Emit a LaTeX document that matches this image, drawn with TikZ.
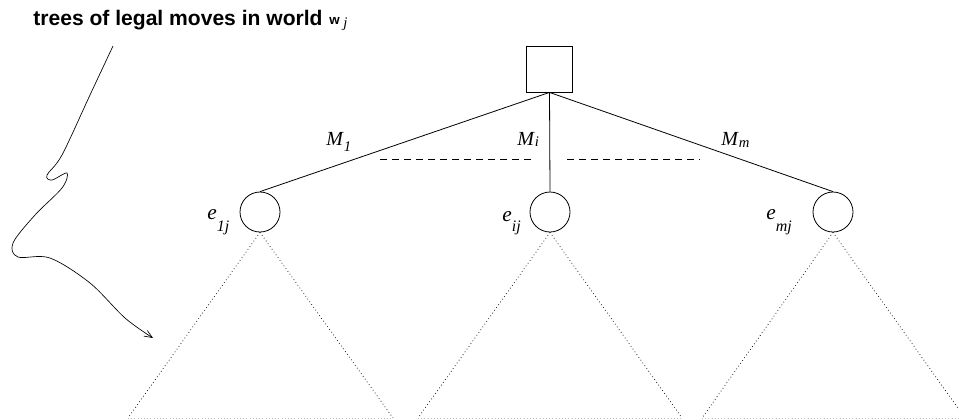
\documentclass[tikz,border=0pt]{standalone}
\usepackage{fontspec}
\setmainfont{Liberation Serif}
\newfontfamily\titlefont{Liberation Sans}
\usetikzlibrary{arrows.meta}
\newcommand\mlab[3]{\textit{#1}\raisebox{-#3}{\fontsize{11}{11}\selectfont\textit{#2}}}
\begin{document}
\begin{tikzpicture}[x=0.75pt,y=-0.75pt,line width=0.6pt,
  boxnode/.style={draw,minimum size=34.5pt,inner sep=0pt},
  leaf/.style={draw,circle,minimum size=30pt,inner sep=0pt},
  lab/.style={inner sep=0pt,font=\fontsize{15}{15}\selectfont},
  elab/.style={inner sep=0pt,font=\fontsize{16}{16}\selectfont},
  legline/.style={dotted,line width=0.55pt},
  baseline/.style={dotted,line width=0.4pt,black!25},
  hidden/.style={dash pattern=on 5pt off 4pt}]
\useasboundingbox (0,0) rectangle (959,419);
% title
\node[inner sep=0pt,anchor=base west,font=\titlefont\bfseries\fontsize{15.8}{15.8}\selectfont] (title) at (33,25) {trees of legal moves in world};
\node[inner sep=0pt,anchor=base west,font=\titlefont\bfseries\fontsize{10}{10}\selectfont] (tw) at (329,24) {w};
\node[inner sep=0pt,anchor=base west,font=\fontsize{11}{11}\selectfont\itshape] (tj) at (343,27.5) {j};
% tree
\node[boxnode] (root) at (549.5,69) {};
\node[leaf] (e1) at (260,212) {};
\node[leaf] (ei) at (550,212) {};
\node[leaf] (em) at (833,212) {};
\draw (root.south) -- (e1.north);
\draw (root.south) -- (ei.north);
\draw (root.south) -- (em.north);
\coordinate (da) at (380,159);
\coordinate (db) at (535,159);
\coordinate (dc) at (567,159);
\coordinate (dd) at (700,159);
\draw[hidden] (da) -- (db);
\draw[hidden] (dc) -- (dd);
% labels
\node[lab,anchor=base west] (m1) at (326,145) {\mlab{M}{1}{5pt}};
\node[lab,anchor=base west] (mi) at (517,145) {\mlab{M}{i}{1pt}};
\node[lab,anchor=base west] (mm) at (721,145) {\mlab{M}{m}{1.5pt}};
\node[elab,anchor=base west] (l1) at (207,219) {\textit{e}\raisebox{-9pt}{\fontsize{12}{12}\selectfont\textit{1j}}};
\node[elab,anchor=base west] (li) at (502,221) {\textit{e}\raisebox{-8pt}{\fontsize{12}{12}\selectfont\textit{ij}}};
\node[elab,anchor=base west] (lm) at (766,219) {\textit{e}\raisebox{-9pt}{\fontsize{12}{12}\selectfont\textit{mj}}};
% triangles
\coordinate (b1l) at (128,418); \coordinate (b1r) at (393,418);
\coordinate (bil) at (418,418); \coordinate (bir) at (682,418);
\coordinate (bml) at (702,418); \coordinate (bmr) at (965,418);
\draw[legline] (e1.south) -- (b1l);
\draw[legline] (e1.south) -- (b1r);
\draw[legline] (ei.south) -- (bil);
\draw[legline] (ei.south) -- (bir);
\draw[legline] (em.south) -- (bml);
\draw[legline] (em.south) -- (bmr);
\draw[baseline] (b1l) -- (b1r);
\draw[baseline] (bil) -- (bir);
\draw[baseline] (bml) -- (bmr);
% squiggly arrow
\draw[line width=0.5pt,-{Straight Barb[length=6pt,width=5pt]}] plot[smooth,tension=0.55] coordinates {(113,46) (90,95) (62,155) (47,175) (52,180) (67,173) (62,188) (35,215) (13,243) (18,257) (50,258) (90,283) (125,318) (153,338)};
\end{tikzpicture}
\end{document}
